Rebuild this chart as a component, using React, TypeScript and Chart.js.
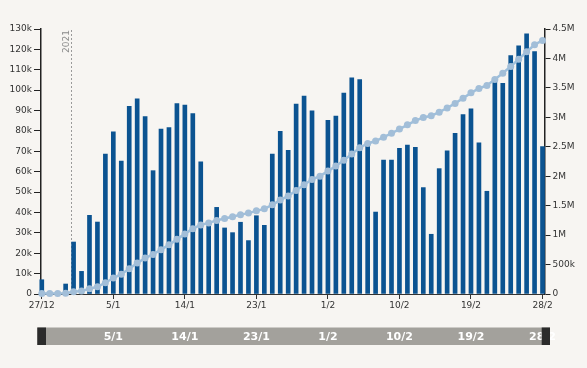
import React, { useEffect, useRef } from "react";
import { Chart, registerables } from "chart.js";

Chart.register(...registerables);

const categories = [
  "27/12", "28/12", "29/12", "30/12", "31/12",
  "1/1", "2/1", "3/1", "4/1", "5/1", "6/1", "7/1", "8/1", "9/1", "10/1",
  "11/1", "12/1", "13/1", "14/1", "15/1", "16/1", "17/1", "18/1", "19/1", "20/1",
  "21/1", "22/1", "23/1", "24/1", "25/1", "26/1", "27/1", "28/1", "29/1", "30/1", "31/1",
  "1/2", "2/2", "3/2", "4/2", "5/2", "6/2", "7/2", "8/2", "9/2", "10/2",
  "11/2", "12/2", "13/2", "14/2", "15/2", "16/2", "17/2", "18/2", "19/2", "20/2",
  "21/2", "22/2", "23/2", "24/2", "25/2", "26/2", "27/2", "28/2",
];

const dailyCases = [
  7000, 400, 300, 4900, 25500, 11100, 38600, 35300, 68700, 79600,
  65200, 92100, 95700, 87000, 60500, 80900, 81600, 93400, 92700, 88500,
  64800, 33500, 42500, 32400, 30100, 35200, 26200, 38400, 33700, 68700,
  79800, 70500, 93200, 97100, 89900, 56400, 85200, 87300, 98600, 106100,
  105200, 72900, 40200, 65700, 65700, 71500, 73100, 72000, 52200, 29300,
  61500, 70200, 78800, 88000, 90800, 74200, 50400, 104200, 103400, 116900,
  121800, 127600, 118900, 72300,
];

const cumulativeCases = [
  7000, 7400, 7700, 12600, 38100, 49200, 87800, 123100, 191800, 271400,
  336600, 428700, 524400, 611400, 671900, 752800, 834400, 927800, 1020500, 1109000,
  1173800, 1207300, 1249800, 1282200, 1312300, 1347500, 1373700, 1412100, 1445800, 1514500,
  1594300, 1664800, 1758000, 1855100, 1945000, 2001400, 2086600, 2173900, 2272500, 2378600,
  2483800, 2556700, 2596900, 2662600, 2728300, 2799800, 2872900, 2944900, 2997100, 3026400,
  3087900, 3158100, 3236900, 3324900, 3415700, 3489900, 3540300, 3644500, 3747900, 3864800,
  3986600, 4114200, 4233100, 4305400,
];

const xTickIndices = [0, 9, 18, 27, 36, 45, 54, 63];
const yearMarkerIndex = 3.7;
const yearMarkerLabel = "2021";

const BG = "#f7f5f2";
const FONT = "'DejaVu Sans', Verdana, sans-serif";

export default function App() {
  const ref = useRef<HTMLCanvasElement | null>(null);

  useEffect(() => {
    document.body.style.margin = "0";
    document.body.style.background = BG;
    const canvas = ref.current;
    if (!canvas) return;

    const bgPlugin = {
      id: "bg",
      beforeDraw(chart: any) {
        const ctx = chart.ctx;
        ctx.save();
        ctx.fillStyle = BG;
        ctx.fillRect(0, 0, chart.width, chart.height);
        ctx.restore();
      },
    };

    const markerPlugin = {
      id: "marker",
      beforeDatasetsDraw(chart: any) {
        const ctx = chart.ctx;
        const x = chart.scales.x.getPixelForValue(yearMarkerIndex);
        const { top, bottom } = chart.chartArea;
        ctx.save();
        ctx.strokeStyle = "#9a9a9a";
        ctx.lineWidth = 1;
        ctx.setLineDash([2, 2]);
        ctx.beginPath();
        ctx.moveTo(Math.round(x) + 0.5, top + 1);
        ctx.lineTo(Math.round(x) + 0.5, bottom);
        ctx.stroke();
        ctx.setLineDash([]);
        ctx.translate(x - 5, top + 1);
        ctx.rotate(-Math.PI / 2);
        ctx.fillStyle = "#8a8a8a";
        ctx.font = `9px ${FONT}`;
        ctx.textAlign = "right";
        ctx.textBaseline = "middle";
        ctx.fillText(yearMarkerLabel, 0, 0);
        ctx.restore();
      },
    };

    const sliderPlugin = {
      id: "slider",
      afterDraw(chart: any) {
        const ctx = chart.ctx;
        const xs = chart.scales.x;
        const y0 = 327.5;
        const h = 17.5;
        const x0 = 37.3;
        const x1 = 550;
        ctx.save();
        ctx.fillStyle = "#a3a19c";
        ctx.fillRect(x0, y0, x1 - x0, h);
        ctx.fillStyle = "#ffffff";
        ctx.font = `bold 11px ${FONT}`;
        ctx.textAlign = "center";
        ctx.textBaseline = "middle";
        xTickIndices.slice(1).forEach((i) => {
          ctx.fillText(categories[i], xs.getPixelForValue(i), y0 + h / 2 + 0.5);
        });
        ctx.fillStyle = "#2b2b2b";
        ctx.fillRect(x0, y0, 8.7, h);
        ctx.fillRect(x1 - 8.3, y0, 8.3, h);
        ctx.restore();
      },
    };

    const chart = new Chart(canvas, {
      type: "bar",
      data: {
        datasets: [
          {
            type: "line",
            label: "Cumulative",
            data: cumulativeCases.map((v, i) => ({ x: i, y: v })),
            yAxisID: "y1",
            xAxisID: "x",
            borderColor: "#9dbfdc",
            backgroundColor: "#a2bed8",
            borderWidth: 2.5,
            pointRadius: 3.5,
            pointBorderWidth: 0,
            pointBackgroundColor: "#a2bed8",
            tension: 0,
            clip: false,
            order: 1,
          } as any,
          {
            type: "bar",
            label: "Daily",
            data: dailyCases.map((v, i) => ({ x: i, y: v })),
            yAxisID: "y",
            xAxisID: "x",
            backgroundColor: "#0b5391",
            barThickness: 4,
            clip: false,
            order: 2,
          } as any,
        ],
      },
      options: {
        animation: false,
        responsive: false,
        layout: { padding: { top: 29, bottom: 54, left: 0, right: 0 } },
        plugins: {
          legend: { display: false },
          tooltip: { enabled: false },
        },
        scales: {
          x: {
            type: "linear",
            min: -0.1,
            max: 63.25,
            offset: false,
            afterBuildTicks: (s: any) => {
              s.ticks = xTickIndices.map((v) => ({ value: v }));
            },
            afterFit: (s: any) => {
              s.height = 20;
            },
            ticks: {
              callback: (v: any) => categories[Number(v)] ?? "",
              color: "#333",
              font: { family: FONT, size: 9 },
              padding: 1,
              maxRotation: 0,
              autoSkip: false,
            },
            grid: {
              offset: false,
              drawOnChartArea: false,
              drawTicks: true,
              tickLength: 5,
              tickColor: "#333",
            },
            border: { display: true, color: "#333", width: 1 },
          },
          y: {
            type: "linear",
            position: "left",
            min: 0,
            max: 130000,
            afterBuildTicks: (s: any) => {
              const t = [];
              for (let v = 0; v <= 130000; v += 10000) t.push({ value: v });
              s.ticks = t;
            },
            afterFit: (s: any) => {
              s.width = 41;
            },
            ticks: {
              callback: (v: any) => (v === 0 ? "0" : `${v / 1000}k`),
              color: "#333",
              font: { family: FONT, size: 9 },
              padding: 2,
            },
            grid: {
              drawOnChartArea: false,
              drawTicks: true,
              tickLength: 7,
              tickColor: "#222",
            },
            border: { display: true, color: "#222", width: 1.5 },
          },
          y1: {
            type: "linear",
            position: "right",
            min: 0,
            max: 4500000,
            afterBuildTicks: (s: any) => {
              const t = [];
              for (let v = 0; v <= 4500000; v += 500000) t.push({ value: v });
              s.ticks = t;
            },
            afterFit: (s: any) => {
              s.width = 42.5;
            },
            ticks: {
              callback: (v: any) =>
                v === 0 ? "0" : v < 1000000 ? `${v / 1000}k` : `${v / 1000000}M`,
              color: "#333",
              font: { family: FONT, size: 9 },
              padding: 2,
            },
            grid: {
              drawOnChartArea: false,
              drawTicks: true,
              tickLength: 6,
              tickColor: "#222",
            },
            border: { display: true, color: "#222", width: 1.5 },
          },
        },
      },
      plugins: [bgPlugin, markerPlugin, sliderPlugin],
    } as any);

    return () => chart.destroy();
  }, []);

  return (
    <div style={{ width: 587, height: 368, background: BG }}>
      <canvas ref={ref} width={587} height={368} style={{ display: "block" }} />
    </div>
  );
}
